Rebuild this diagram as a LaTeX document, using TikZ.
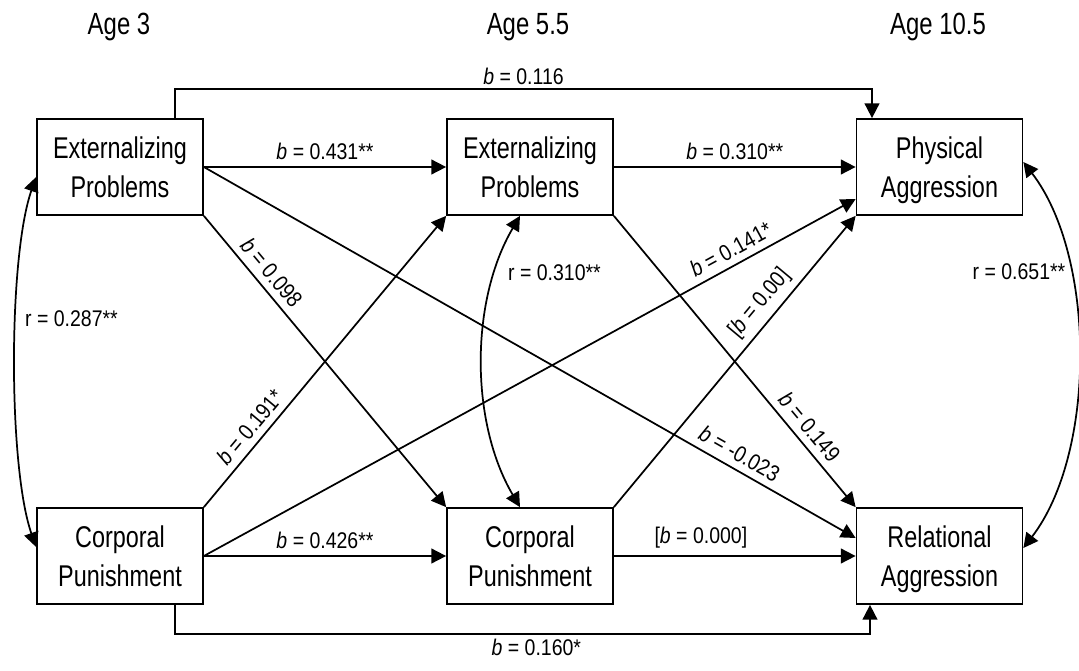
\documentclass[tikz,border=0pt]{standalone}
\usepackage{fontspec}
\setmainfont{Liberation Sans}[FakeStretch=0.78]
\newfontfamily\labfont{Liberation Sans}[FakeStretch=0.86]
\usetikzlibrary{arrows.meta,calc}

\tikzset{
	varbox/.style={draw, minimum width=124.5pt, minimum height=72pt, align=center, inner sep=0pt, text depth=0pt, font=\fontsize{22.5}{29.25}\selectfont},
	agelab/.style={anchor=base, font=\fontsize{23}{28}\selectfont},
	coef/.style={font=\labfont\fontsize{17}{20}\selectfont, inner sep=5pt},
	path arrow/.style={-{Triangle[length=11pt,width=11pt]}},
	corr arrow/.style={{Triangle[length=11pt,width=11pt]}-{Triangle[length=11pt,width=11pt]}}}
\tikzset{every picture/.style={line width=1.3pt}}

\begin{document}
\begin{tikzpicture}[x=0.75pt,y=0.75pt,yscale=-1,xscale=1]
	\useasboundingbox (0,0) rectangle (1079,671);

	% Text Node
	\node[agelab] (age3) at (119,35) {Age 3};
	% Text Node
	\node[agelab] (age55) at (528,35) {Age 5.5};
	% Text Node
	\node[agelab] (age105) at (938,35) {Age 10.5};

	%Shape: Rectangle
	\node[varbox] (ep3) at (120,167) {Externalizing\\Problems};
	%Shape: Rectangle
	\node[varbox] (ep5) at (530,167) {Externalizing\\Problems};
	%Shape: Rectangle
	\node[varbox] (pa) at (939.5,167) {Physical\\Aggression};
	%Shape: Rectangle
	\node[varbox] (cp3) at (120,556) {Corporal\\Punishment};
	%Shape: Rectangle
	\node[varbox] (cp5) at (530,556) {Corporal\\Punishment};
	%Shape: Rectangle
	\node[varbox] (ra) at (939.5,556) {Relational\\Aggression};

	%Straight Lines
	\draw[path arrow] (ep3.east) -- node[coef, above] (c431) {\textit{b} = 0.431**} (ep5.west);
	\draw[path arrow] (ep5.east) -- node[coef, above] (c310) {\textit{b} = 0.310**} (pa.west);
	\draw[path arrow] (cp3.east) -- node[coef, above] (c426) {\textit{b} = 0.426**} (cp5.west);
	\draw[path arrow] (cp5.east) -- node[coef, above, pos=0.36] (c000) {[\textit{b} = 0.000]} (ra.west);

	%Straight Lines
	\draw[path arrow] (ep3.south east) -- node[coef, anchor=south, rotate=-50.1, pos=0.23] (c098) {\textit{b} = 0.098} (cp5.north west);
	\draw[path arrow] (cp3.north east) -- node[coef, anchor=south, rotate=50.1, pos=0.24] (c191) {\textit{b} = 0.191*} (ep5.south west);
	\draw[path arrow] (cp3.east) -- node[coef, anchor=south, rotate=28.6, pos=0.82] (c141) {\textit{b} = 0.141*} ($(pa.west)+(0,32)$);
	\draw[path arrow] (cp5.north east) -- node[coef, anchor=south, rotate=50.1, pos=0.66] (c00) {[\textit{b} = 0.00]} (pa.south west);
	\draw[path arrow] (ep5.south east) -- node[coef, anchor=south, rotate=-50.1, pos=0.76] (c149) {\textit{b} = 0.149} (ra.north west);
	\draw[path arrow] (ep3.east) -- node[coef, anchor=south, rotate=-29.6, pos=0.81] (c023) {\textit{b} = -0.023} ($(ra.west)+(0,-18)$);

	%Elbow Lines
	\draw[path arrow] (ep3.north) ++(55,0) -- ++(0,-29) -| node[coef, above, pos=0.25, inner sep=2.5pt] (c116) {\textit{b} = 0.116} ($(pa.north)+(-67.5,0)$);
	\draw[path arrow] (cp3.south) ++(55,0) -- ++(0,29) -| node[coef, below, pos=0.26, inner sep=3pt] (c160) {\textit{b} = 0.160*} ($(ra.south)+(-69.5,0)$);

	%Curve Lines
	\draw[corr arrow] ($(ep3.west)+(0,10)$) .. controls +(-28,80) and +(-28,-80) .. ($(cp3.west)+(0,-9)$);
	\draw[corr arrow] ($(ep5.south)+(-10,0)$) .. controls +(-50,85) and +(-50,-85) .. ($(cp5.north)+(-10,0)$);
	\draw[corr arrow] ($(pa.east)+(0,-5)$) .. controls +(73,95) and +(73,-95) .. ($(ra.east)+(0,-8)$);

	% Text Node
	\node[coef] (r287) at (71.5,319) {r = 0.287**};
	% Text Node
	\node[coef] (r310) at (554.5,273) {r = 0.310**};
	% Text Node
	\node[coef] (r651) at (1019,272) {r = 0.651**};

\end{tikzpicture}
\end{document}
